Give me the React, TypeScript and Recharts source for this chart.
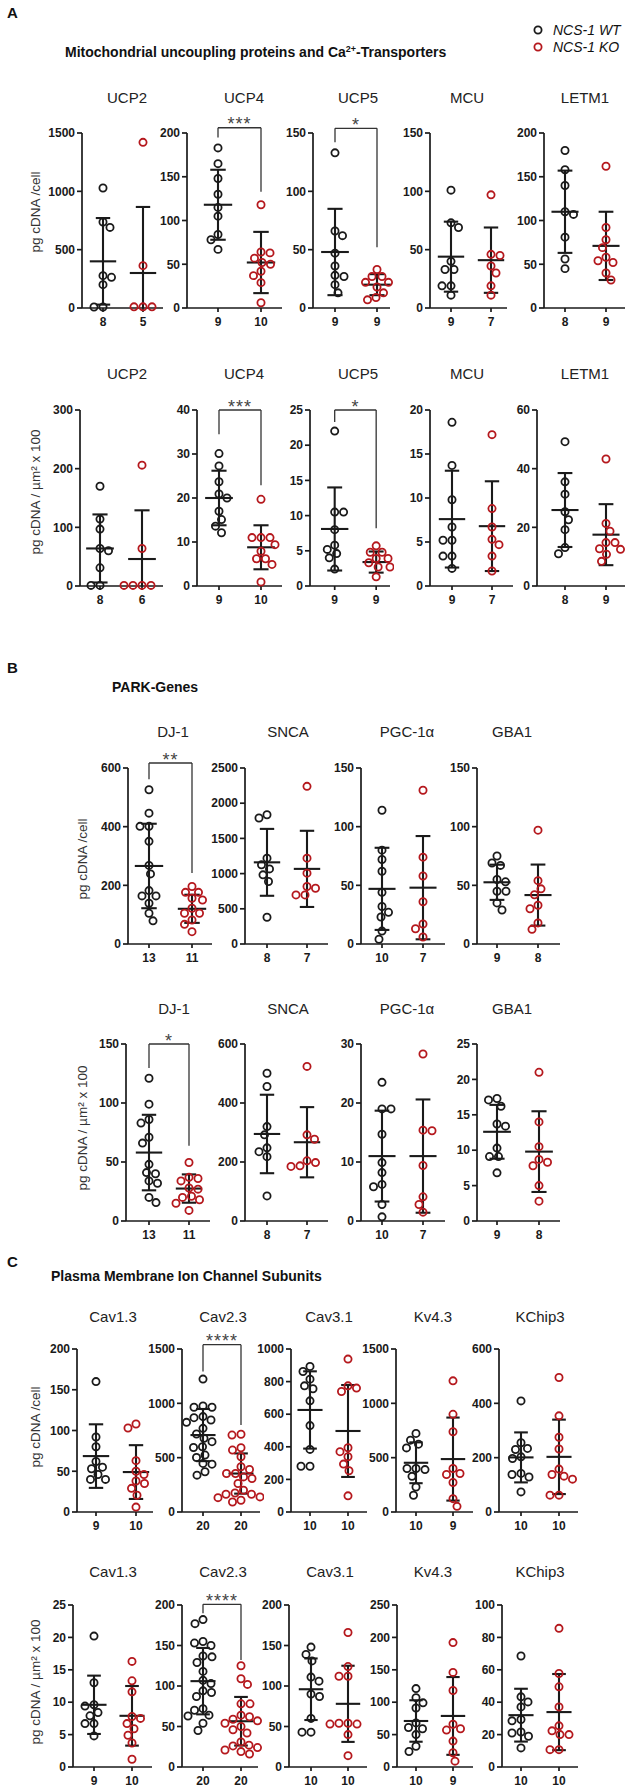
import React from "react";
import { ScatterChart, Scatter, XAxis, YAxis, ReferenceLine, ReferenceDot } from "recharts";

// ---------- A: mitochondrial uncoupling proteins and Ca2+ transporters ----------
const mitoGenes = ["UCP2", "UCP4", "UCP5", "MCU", "LETM1"];

// pg cDNA / cell
const mitoCellMax = [1500, 200, 150, 150, 200];
const mitoCellStep = [500, 50, 50, 50, 50];
const mitoCellWT = [
  [1029, 737, 691, 277, 263, 200, 9, 9],
  [183, 165, 148, 130, 115, 105, 84, 78, 67],
  [133, 66, 62, 47, 36, 28, 27, 20, 13],
  [101, 73, 69, 40, 33, 33, 19, 19, 11],
  [180, 158, 140, 110, 107, 81, 56, 45],
];
const mitoCellKO = [
  [1420, 363, 10, 10, 10],
  [118, 64, 63, 57, 52, 50, 42, 37, 29, 6],
  [33, 27, 27, 22, 22, 18, 13, 9, 7],
  [97, 46, 45, 36, 30, 19, 11],
  [162, 92, 78, 69, 58, 54, 52, 40, 32],
];
// mean WT, SD WT, mean KO, SD KO
const mitoCellStats = [
  [400, 371, 300, 566],
  [118, 40, 52, 35],
  [48, 37, 20, 9],
  [44, 30, 41, 28],
  [110, 47, 71, 39],
];
const mitoCellSig = ["", "***", "*", "", ""];
// bracket: top, left leg end, right leg end
const mitoCellBracket = [null, [206, 195, 133], [154, 142, 52], null, null];

// pg cDNA / um2 x 100
const mitoAreaMax = [300, 40, 25, 20, 60];
const mitoAreaStep = [100, 10, 5, 5, 20];
const mitoAreaWT = [
  [170, 114, 97, 64, 60, 31, 1, 1],
  [30.1, 27.3, 23.7, 20.9, 20, 17, 15.1, 13.6, 12.1],
  [22, 10.5, 10.5, 8, 5.8, 5.2, 4.6, 4, 2.4],
  [18.6, 13.7, 9.8, 6.7, 5.2, 5.2, 3.4, 3.4, 2],
  [49.2, 35.5, 31.3, 25.3, 22.6, 19.2, 13.1, 11],
];
const mitoAreaKO = [
  [206, 64, 1, 1, 1, 1],
  [19.7, 11, 11, 11, 9.4, 7.9, 6.2, 6.2, 4.9, 0.9],
  [5.7, 4.8, 4.8, 3.9, 3.9, 3.3, 2.7, 2.7, 1.3],
  [17.2, 8.8, 6.7, 5.3, 4.7, 3.4, 1.7],
  [43.3, 21.3, 18.7, 14.8, 14.8, 12.7, 12.5, 10.8, 8.4],
];
const mitoAreaStats = [
  [64, 58, 46, 83],
  [20, 6.2, 8.8, 5],
  [8.1, 5.9, 3.4, 1.5],
  [7.6, 5.5, 6.8, 5.1],
  [25.9, 12.6, 17.5, 10.4],
];
const mitoAreaSig = ["", "***", "*", "", ""];
const mitoAreaBracket = [null, [40, 34.5, 22.9], [25, 23.3, 8.2], null, null];

// ---------- B: PARK genes ----------
const parkGenes = ["DJ-1", "SNCA", "PGC-1α", "GBA1"];

const parkCellMax = [600, 2500, 150, 150];
const parkCellStep = [200, 500, 50, 50];
const parkCellWT = [
  [526, 446, 401, 401, 350, 268, 239, 182, 164, 164, 139, 105, 79],
  [1836, 1789, 1219, 1124, 1067, 982, 887, 380],
  [114, 80, 72, 62, 44, 32, 27, 23, 11, 4],
  [75, 69, 67, 55, 53, 45, 45, 35, 29],
];
const parkCellKO = [
  [196, 176, 176, 156, 150, 122, 105, 105, 82, 67, 42],
  [2239, 1219, 1006, 816, 792, 697, 697],
  [131, 74, 58, 36, 17, 13, 6],
  [97, 54, 47, 42, 33, 30, 18, 12.5],
];
const parkCellStats = [
  [266, 144, 120, 48],
  [1160, 475, 1067, 541],
  [47, 35, 48, 44],
  [52.6, 15, 41.7, 26],
];
const parkCellSig = ["**", "", "", ""];
const parkCellBracket = [[617, 562, 242], null, null, null];

const parkAreaMax = [150, 600, 30, 25];
const parkAreaStep = [50, 200, 10, 5];
const parkAreaWT = [
  [121, 99, 86, 83, 71, 66, 48, 41, 40, 34, 32, 20, 15.6],
  [501, 456, 320, 292, 248, 235, 218, 85],
  [23.5, 19, 19, 14.7, 9.9, 8.2, 6.2, 5.8, 2.8, 0.7],
  [17.3, 17.1, 16.2, 13.7, 13.4, 10.3, 9.1, 9.1, 6.8],
];
const parkAreaKO = [
  [49.6, 37, 36, 34, 28, 27, 21, 20, 18, 15, 9],
  [524, 292, 277, 204, 198, 187, 185],
  [28.3, 15.4, 15.3, 9.4, 4.1, 2.8, 1.5],
  [21, 14, 10.5, 8.7, 8.3, 7.8, 5, 2.8],
];
const parkAreaStats = [
  [58, 32, 27.5, 12],
  [295, 133, 267, 119],
  [11, 7.7, 11, 9.6],
  [12.6, 3.8, 9.8, 5.7],
];
const parkAreaSig = ["*", "", "", ""];
const parkAreaBracket = [[150, 129.6, 63.8], null, null, null];

// ---------- C: plasma membrane ion channel subunits ----------
const chanGenes = ["Cav1.3", "Cav2.3", "Cav3.1", "Kv4.3", "KChip3"];

const chanCellMax = [200, 1500, 1000, 1500, 600];
const chanCellStep = [50, 500, 200, 500, 200];
const chanCellWT = [
  [160, 92, 80, 62, 55, 53, 46, 40, 40],
  [1223, 976, 964, 964, 878, 868, 847, 825, 770, 718, 678, 647, 600, 594, 524, 502, 447, 440, 370, 339],
  [893, 862, 815, 774, 756, 682, 530, 384, 281, 281],
  [723, 661, 624, 590, 400, 400, 390, 328, 230, 154],
  [409, 255, 234, 230, 203, 197, 142, 138, 129, 74],
];
const chanCellKO = [
  [108, 103, 63, 50, 46, 38, 35, 29, 20.5, 6],
  [715, 708, 591, 570, 508, 416, 391, 354, 354, 323, 308, 262, 200, 175, 163, 163, 139, 132, 108, 92],
  [938, 774, 760, 739, 394, 370, 339, 294, 253, 99],
  [1207, 899, 739, 400, 354, 345, 271, 123, 52],
  [495, 354, 275, 232, 158, 138, 132, 121, 62, 62],
];
const chanCellStats = [
  [68.6, 39, 49, 33],
  [708, 240, 354, 185],
  [626, 237, 497, 282],
  [453, 188, 487, 382],
  [201, 92, 203, 137],
];
const chanCellSig = ["", "****", "", "", ""];
const chanCellBracket = [null, [1540, 1294, 801], null, null, null];

const chanAreaMax = [25, 200, 200, 250, 100];
const chanAreaStep = [5, 50, 50, 50, 20];
const chanAreaWT = [
  [20.2, 13, 9.6, 9.4, 8.4, 7.9, 6.7, 6.7, 4.8],
  [182, 177, 155, 153, 150, 137, 136, 129, 118, 107, 103, 94, 92, 87, 72, 70, 64, 63, 54, 45],
  [148, 139, 131, 111, 106, 90, 87, 60, 43, 43],
  [121, 107, 99, 91, 68, 61, 59, 50, 32, 24],
  [68.5, 43.3, 40.2, 37.1, 29.3, 28.5, 21.6, 21, 19, 11.8],
];
const chanAreaKO = [
  [16.3, 13.3, 11.6, 7.8, 7.5, 6.7, 5.9, 4.9, 3.7, 1.2],
  [125, 109, 102, 78, 78, 64, 62, 59, 57, 54, 50, 46, 42, 31, 27, 26, 24, 21, 19, 16],
  [166, 124, 112, 112, 54, 54, 53, 53, 40, 14],
  [192, 146, 118, 66, 59, 57, 40, 22, 9],
  [85.6, 57.7, 49.5, 37.1, 25.4, 22.3, 20, 20, 10.7, 10.7],
];
const chanAreaStats = [
  [9.6, 4.5, 7.9, 4.6],
  [106, 41, 56.5, 30],
  [96, 38, 78, 47],
  [71, 32, 78.8, 60],
  [32, 16.3, 33.9, 23.5],
];
const chanAreaSig = ["", "****", "", "", ""];
const chanAreaBracket = [null, [200.8, 189.7, 132], null, null, null];

// ---------- layout (pixel positions of each row / panel) ----------
const ink = "#1a1a1a";
const red = "#b5181d";
const labelCell = "pg cDNA /cell";
const labelArea = "pg cDNA / µm² x 100";

const rows = [
  {
    genes: mitoGenes, max: mitoCellMax, step: mitoCellStep, wt: mitoCellWT, ko: mitoCellKO,
    stats: mitoCellStats, sig: mitoCellSig, bracket: mitoCellBracket,
    yTop: 133, yZero: 308, titleY: 103, label: labelCell, labelX: 35, labelY: 212,
    titleX: [127, 244, 358, 467, 585],
    geom: [[82, 103, 143, 163], [187, 218, 261, 282], [313, 335, 377, 390], [430, 451, 491, 507], [544, 565, 606, 625]],
  },
  {
    genes: mitoGenes, max: mitoAreaMax, step: mitoAreaStep, wt: mitoAreaWT, ko: mitoAreaKO,
    stats: mitoAreaStats, sig: mitoAreaSig, bracket: mitoAreaBracket,
    yTop: 410, yZero: 586, titleY: 379, label: labelArea, labelX: 35, labelY: 492,
    titleX: [127, 244, 358, 467, 585],
    geom: [[80, 100, 142, 163], [197, 219, 261, 282], [310, 335, 377, 390], [430, 452, 492, 513], [537, 565, 606, 625]],
  },
  {
    genes: parkGenes, max: parkCellMax, step: parkCellStep, wt: parkCellWT, ko: parkCellKO,
    stats: parkCellStats, sig: parkCellSig, bracket: parkCellBracket,
    yTop: 768, yZero: 944, titleY: 737, label: labelCell, labelX: 82, labelY: 859,
    titleX: [173, 288, 407, 512],
    geom: [[128, 149, 192, 212], [245, 267, 307, 328], [361, 382, 423, 445], [477, 497, 538, 560]],
  },
  {
    genes: parkGenes, max: parkAreaMax, step: parkAreaStep, wt: parkAreaWT, ko: parkAreaKO,
    stats: parkAreaStats, sig: parkAreaSig, bracket: parkAreaBracket,
    yTop: 1044, yZero: 1221, titleY: 1014, label: labelArea, labelX: 82, labelY: 1128,
    titleX: [174, 288, 407, 512],
    geom: [[126, 149, 189, 210], [245, 267, 307, 328], [361, 382, 423, 445], [477, 497, 539, 560]],
  },
  {
    genes: chanGenes, max: chanCellMax, step: chanCellStep, wt: chanCellWT, ko: chanCellKO,
    stats: chanCellStats, sig: chanCellSig, bracket: chanCellBracket,
    yTop: 1349, yZero: 1512, titleY: 1322, label: labelCell, labelX: 35, labelY: 1427,
    titleX: [113, 223, 329, 433, 540],
    geom: [[77, 96, 136, 153], [182, 203, 241, 260], [291, 310, 348, 367], [396, 416, 453, 473], [499, 521, 559, 578]],
  },
  {
    genes: chanGenes, max: chanAreaMax, step: chanAreaStep, wt: chanAreaWT, ko: chanAreaKO,
    stats: chanAreaStats, sig: chanAreaSig, bracket: chanAreaBracket,
    yTop: 1605, yZero: 1767, titleY: 1577, label: labelArea, labelX: 35, labelY: 1682,
    titleX: [113, 223, 330, 433, 540],
    geom: [[73, 94, 132, 152], [182, 203, 241, 258], [289, 311, 348, 367], [397, 416, 453, 473], [502, 521, 559, 578]],
  },
];

type Row = (typeof rows)[number];
type Pt = { x: number; y: number };

const DOT_D = 8.6;

// spread overlapping points sideways (Prism-like scatter dot plot)
function swarm(values: number[], max: number, plotH: number, sp: number, center: number): Pt[] {
  const placed: { dx: number; py: number }[] = [];
  const out: Pt[] = new Array(values.length);
  const order = values.map((_, i) => i).sort((a, b) => values[b] - values[a]);
  order.forEach((i, n) => {
    const py = (values[i] / max) * plotH;
    let dx = 0;
    for (let k = 0; k < 80; k++) {
      const side = n % 2 === 0 ? 1 : -1;
      const cands = k === 0 ? [0] : [side * k * 0.5, -side * k * 0.5];
      const ok = cands.find((c) => placed.every((p) => Math.hypot(p.dx - c, p.py - py) >= DOT_D));
      if (ok !== undefined) {
        dx = ok;
        break;
      }
    }
    placed.push({ dx, py });
    out[i] = { x: center + dx / sp, y: values[i] };
  });
  return out;
}

function errorBars(id: string, c: number, mean: number, sd: number) {
  const lo = Math.max(0, mean - sd);
  const hi = mean + sd;
  const st = { stroke: ink, strokeWidth: 2.1, ifOverflow: "visible" as const };
  const out = [
    <ReferenceLine key={id + "m"} segment={[{ x: c - 0.33, y: mean }, { x: c + 0.33, y: mean }]} {...st} />,
    <ReferenceLine key={id + "v"} segment={[{ x: c, y: lo }, { x: c, y: hi }]} {...st} />,
    <ReferenceLine key={id + "h"} segment={[{ x: c - 0.18, y: hi }, { x: c + 0.18, y: hi }]} {...st} />,
  ];
  if (mean - sd > 0) {
    out.push(<ReferenceLine key={id + "l"} segment={[{ x: c - 0.18, y: lo }, { x: c + 0.18, y: lo }]} {...st} />);
  }
  return out;
}

const YW = 44;
const MT = 26;
const XH = 24;
const MR = 4;

function Panel({ row, i }: { row: Row; i: number }) {
  const [ax, g1, g2, end] = row.geom[i];
  const plotW = end - ax;
  const plotH = row.yZero - row.yTop;
  const sp = g2 - g1;
  const xMin = 1 - (g1 - ax) / sp;
  const xMax = 2 + (end - g2) / sp;
  const max = row.max[i];
  const ticks: number[] = [];
  for (let k = 0; k * row.step[i] <= max; k++) ticks.push(k * row.step[i]);

  const wtVals = row.wt[i];
  const koVals = row.ko[i];
  const wt = swarm(wtVals, max, plotH, sp, 1);
  const ko = swarm(koVals, max, plotH, sp, 2);
  const [mW, sW, mK, sK] = row.stats[i];
  const br = row.bracket[i];
  const brSt = { stroke: "#333", strokeWidth: 1.3, ifOverflow: "visible" as const };
  const axisSt = { stroke: ink, strokeWidth: 1.7 };
  const tickSt = { fontSize: 12, fontWeight: 700, fill: ink };

  return (
    <div style={{ position: "absolute", left: ax - YW, top: row.yTop - MT }}>
      <ScatterChart
        width={YW + plotW + MR}
        height={MT + plotH + XH}
        margin={{ top: MT, right: MR, bottom: 0, left: 0 }}
      >
        <XAxis
          type="number"
          dataKey="x"
          domain={[xMin, xMax]}
          ticks={[1, 2]}
          interval={0}
          tickFormatter={(v: number) => String(v === 1 ? wtVals.length : koVals.length)}
          height={XH}
          tickSize={4}
          tickMargin={5}
          axisLine={axisSt}
          tickLine={axisSt}
          tick={tickSt}
        />
        <YAxis
          type="number"
          dataKey="y"
          domain={[0, max]}
          ticks={ticks}
          interval={0}
          width={YW}
          tickSize={5}
          tickMargin={2}
          axisLine={axisSt}
          tickLine={axisSt}
          tick={tickSt}
        />
        <Scatter
          data={wt}
          isAnimationActive={false}
          shape={(p: any) => <circle cx={p.cx} cy={p.cy} r={3.6} fill="none" stroke={ink} strokeWidth={1.8} />}
        />
        <Scatter
          data={ko}
          isAnimationActive={false}
          shape={(p: any) => <circle cx={p.cx} cy={p.cy} r={3.6} fill="none" stroke={red} strokeWidth={1.8} />}
        />
        {errorBars("w", 1, mW, sW)}
        {errorBars("k", 2, mK, sK)}
        {br && [
          <ReferenceLine key="bt" segment={[{ x: 1, y: br[0] }, { x: 2, y: br[0] }]} {...brSt} />,
          <ReferenceLine key="bl" segment={[{ x: 1, y: br[0] }, { x: 1, y: br[1] }]} {...brSt} />,
          <ReferenceLine key="br" segment={[{ x: 2, y: br[0] }, { x: 2, y: br[2] }]} {...brSt} />,
          <ReferenceDot
            key="bs"
            x={1.5}
            y={br[0]}
            ifOverflow="visible"
            shape={(p: any) => (
              <text x={p.cx} y={p.cy + 2.5} textAnchor="middle" fontSize={18} letterSpacing={1} fill="#444">
                {row.sig[i]}
              </text>
            )}
          />,
        ]}
      </ScatterChart>
    </div>
  );
}

export default function App() {
  const font = '"Liberation Sans", Arial, sans-serif';
  return (
    <div
      style={{
        position: "absolute",
        left: 0,
        top: 0,
        width: 637,
        height: 1792,
        background: "#fff",
        fontFamily: font,
        overflow: "hidden",
      }}
    >
      <svg width={637} height={1792} style={{ position: "absolute", left: 0, top: 0 }} fontFamily={font}>
        <text x={7} y={18} fontSize={15} fontWeight={700} fill="#111">A</text>
        <text x={65} y={57} fontSize={14} fontWeight={700} fill="#111">
          Mitochondrial uncoupling proteins and Ca
          <tspan dy={-5} fontSize={9}>2+</tspan>
          <tspan dy={5}>-Transporters</tspan>
        </text>
        <circle cx={538} cy={30} r={3.6} fill="none" stroke={ink} strokeWidth={1.8} />
        <circle cx={538} cy={47} r={3.6} fill="none" stroke={red} strokeWidth={1.8} />
        <text x={553} y={35} fontSize={14} fontStyle="italic" fill="#111">NCS-1 WT</text>
        <text x={553} y={52} fontSize={14} fontStyle="italic" fill="#111">NCS-1 KO</text>

        <text x={7} y={673} fontSize={15} fontWeight={700} fill="#111">B</text>
        <text x={112} y={692} fontSize={14} fontWeight={700} fill="#111">PARK-Genes</text>

        <text x={7} y={1267} fontSize={15} fontWeight={700} fill="#111">C</text>
        <text x={51} y={1281} fontSize={14} fontWeight={700} fill="#111">Plasma Membrane Ion Channel Subunits</text>

        {rows.map((row, ri) => (
          <g key={ri}>
            {row.genes.map((g, gi) => (
              <text key={gi} x={row.titleX[gi]} y={row.titleY} textAnchor="middle" fontSize={15} fill="#222">
                {g}
              </text>
            ))}
            <text
              x={row.labelX}
              y={row.labelY}
              transform={`rotate(-90 ${row.labelX} ${row.labelY})`}
              textAnchor="middle"
              dominantBaseline="central"
              fontSize={13.5}
              fill="#333"
            >
              {row.label}
            </text>
          </g>
        ))}
      </svg>
      {rows.map((row, ri) => row.genes.map((_, gi) => <Panel key={ri + "-" + gi} row={row} i={gi} />))}
    </div>
  );
}
